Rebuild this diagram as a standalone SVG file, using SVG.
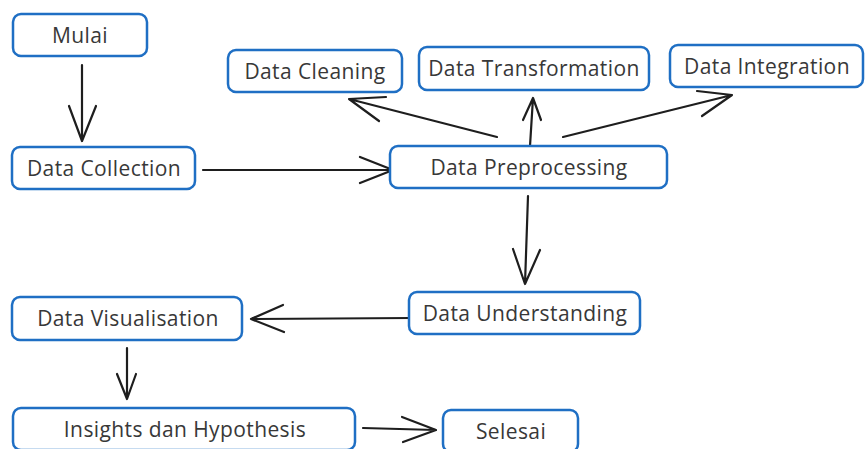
<svg xmlns="http://www.w3.org/2000/svg" width="866" height="449" viewBox="0 0 866 449">
  <style>
    .box { fill: #ffffff; stroke: #1f6fc4; stroke-width: 2.5; }
    .label { font-family: "Open Sans", "Noto Sans", sans-serif; font-size: 21px; letter-spacing: 0.4px; fill: #383838; text-anchor: middle; }
    .edge { fill: none; stroke: #1e1e1e; stroke-width: 2.2; stroke-linecap: round; stroke-linejoin: round; }
  </style>
  <rect width="866" height="449" fill="#ffffff"/>

  <!-- connectors: shaft plus open V head -->
  <g id="connectors">
    <path class="edge" d="M82 65 L82 141 M69 106 L82 141 L96 106"/>
    <path class="edge" d="M203 170 L393 170 M360 157 L393 170 L360 183"/>
    <path class="edge" d="M497 137 L349 99 M386 97 L349 99 L379 121"/>
    <path class="edge" d="M530 146 L533 98 M523 120 L533 98 L541 120"/>
    <path class="edge" d="M563 137 L732 95 M697 91 L732 95 L702 116"/>
    <path class="edge" d="M528 196 L525 284 M513 249 L525 284 L540 250"/>
    <path class="edge" d="M412 318 L251 319 M283 305 L251 319 L284 332"/>
    <path class="edge" d="M127 348 L127 399 M117 374 L127 399 L136 374"/>
    <path class="edge" d="M363 428 L436 430 M402 417 L436 430 L403 442"/>
  </g>

  <g id="mulai">
    <rect class="box" x="13" y="14" width="134" height="42" rx="8"/>
    <text class="label" x="80" y="42.5">Mulai</text>
  </g>
  <g id="data-collection">
    <rect class="box" x="12" y="147" width="183" height="42" rx="8"/>
    <text class="label" x="104" y="175.5">Data Collection</text>
  </g>
  <g id="data-cleaning">
    <rect class="box" x="228" y="50" width="174" height="42" rx="8"/>
    <text class="label" x="315" y="78.5">Data Cleaning</text>
  </g>
  <g id="data-transformation">
    <rect class="box" x="419" y="47" width="230" height="43" rx="8"/>
    <text class="label" x="534" y="75.5">Data Transformation</text>
  </g>
  <g id="data-integration">
    <rect class="box" x="670" y="45" width="193" height="42" rx="8"/>
    <text class="label" x="767" y="73.5">Data Integration</text>
  </g>
  <g id="data-preprocessing">
    <rect class="box" x="390" y="146" width="277" height="42" rx="8"/>
    <text class="label" x="529" y="174.5">Data Preprocessing</text>
  </g>
  <g id="data-understanding">
    <rect class="box" x="409" y="292" width="231" height="42" rx="8"/>
    <text class="label" x="525" y="320.5">Data Understanding</text>
  </g>
  <g id="data-visualisation">
    <rect class="box" x="12" y="297" width="230" height="43" rx="8"/>
    <text class="label" x="128" y="325.5">Data Visualisation</text>
  </g>
  <g id="insights-dan-hypothesis">
    <rect class="box" x="13" y="408" width="342" height="42" rx="8"/>
    <text class="label" x="185" y="436.5">Insights dan Hypothesis</text>
  </g>
  <g id="selesai">
    <rect class="box" x="443" y="410" width="135" height="42" rx="8"/>
    <text class="label" x="511" y="438.5">Selesai</text>
  </g>
</svg>
